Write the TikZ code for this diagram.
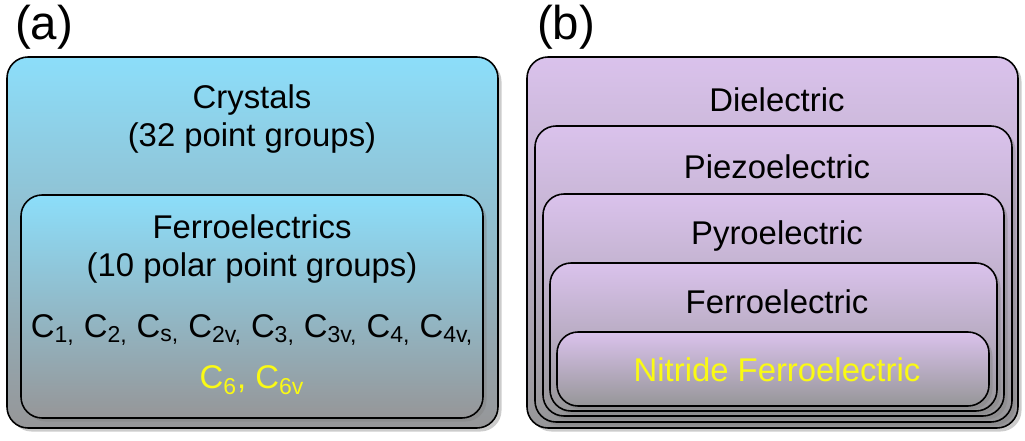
\documentclass[tikz,border=0pt]{standalone}
\usepackage{fontspec}
\setmainfont{Liberation Sans}
\usetikzlibrary{shadows}
\definecolor{cyanT}{RGB}{140,222,250}
\definecolor{cyanM}{RGB}{135,205,232}
\definecolor{grayB}{RGB}{150,150,152}
\definecolor{purT}{RGB}{218,194,236}
\definecolor{purM}{RGB}{208,188,225}
\definecolor{ylw}{RGB}{250,250,20}
\tikzset{
  abox/.style={draw=black, line width=0.9pt, rounded corners=12pt, top color=cyanT, middle color=cyanM, bottom color=grayB, drop shadow={shadow xshift=2pt, shadow yshift=-2pt, opacity=0.4}},
  bbox/.style={draw=black, line width=0.9pt, rounded corners=12pt, top color=purT, middle color=purM, bottom color=grayB, drop shadow={shadow xshift=2pt, shadow yshift=-2pt, opacity=0.4}},
  lbl/.style={font=\fontsize{18.7}{22}\selectfont, align=center, inner sep=0pt},
  big/.style={font=\fontsize{27}{30}\selectfont, inner sep=0pt}
}
\begin{document}
\begin{tikzpicture}[x=0.02cm, y=-0.02cm]
\useasboundingbox (0,0) rectangle (1025,440);
\node[big] (la) at (44,27) {(a)};
\node[big] (lb) at (566,27) {(b)};
% (a)
\path[abox] (7,57) rectangle (498,428);
\path[abox] (21,195) rectangle (483,418);
\node[lbl] (cry) at (252,100) {Crystals};
\node[lbl] (cry2) at (252,138) {(32 point groups)};
\node[lbl] (fe) at (252,227) {Ferroelectrics};
\node[lbl] (fe2) at (252,268) {(10 polar point groups)};
\node[lbl] (grp) at (252,330) {C\textsubscript{1,} C\textsubscript{2,} C\textsubscript{s,} C\textsubscript{2v,} C\textsubscript{3,} C\textsubscript{3v,} C\textsubscript{4,} C\textsubscript{4v,}};
\node[lbl, text=ylw] (grp2) at (252,380) {C\textsubscript{6}, C\textsubscript{6v}};
% (b)
\path[bbox] (527,57) rectangle (1018,428);
\path[bbox] (535,126) rectangle (1012,422);
\path[bbox] (543,194) rectangle (1004,416);
\path[bbox] (550,263) rectangle (997,411);
\path[bbox] (557,332) rectangle (989,406);
\node[lbl] (die) at (777,100) {Dielectric};
\node[lbl] (pie) at (777,167) {Piezoelectric};
\node[lbl] (pyr) at (777,236) {Pyroelectric};
\node[lbl] (fer) at (777,302) {Ferroelectric};
\node[lbl, text=ylw] (nit) at (777,370) {Nitride Ferroelectric};
\end{tikzpicture}
\end{document}
